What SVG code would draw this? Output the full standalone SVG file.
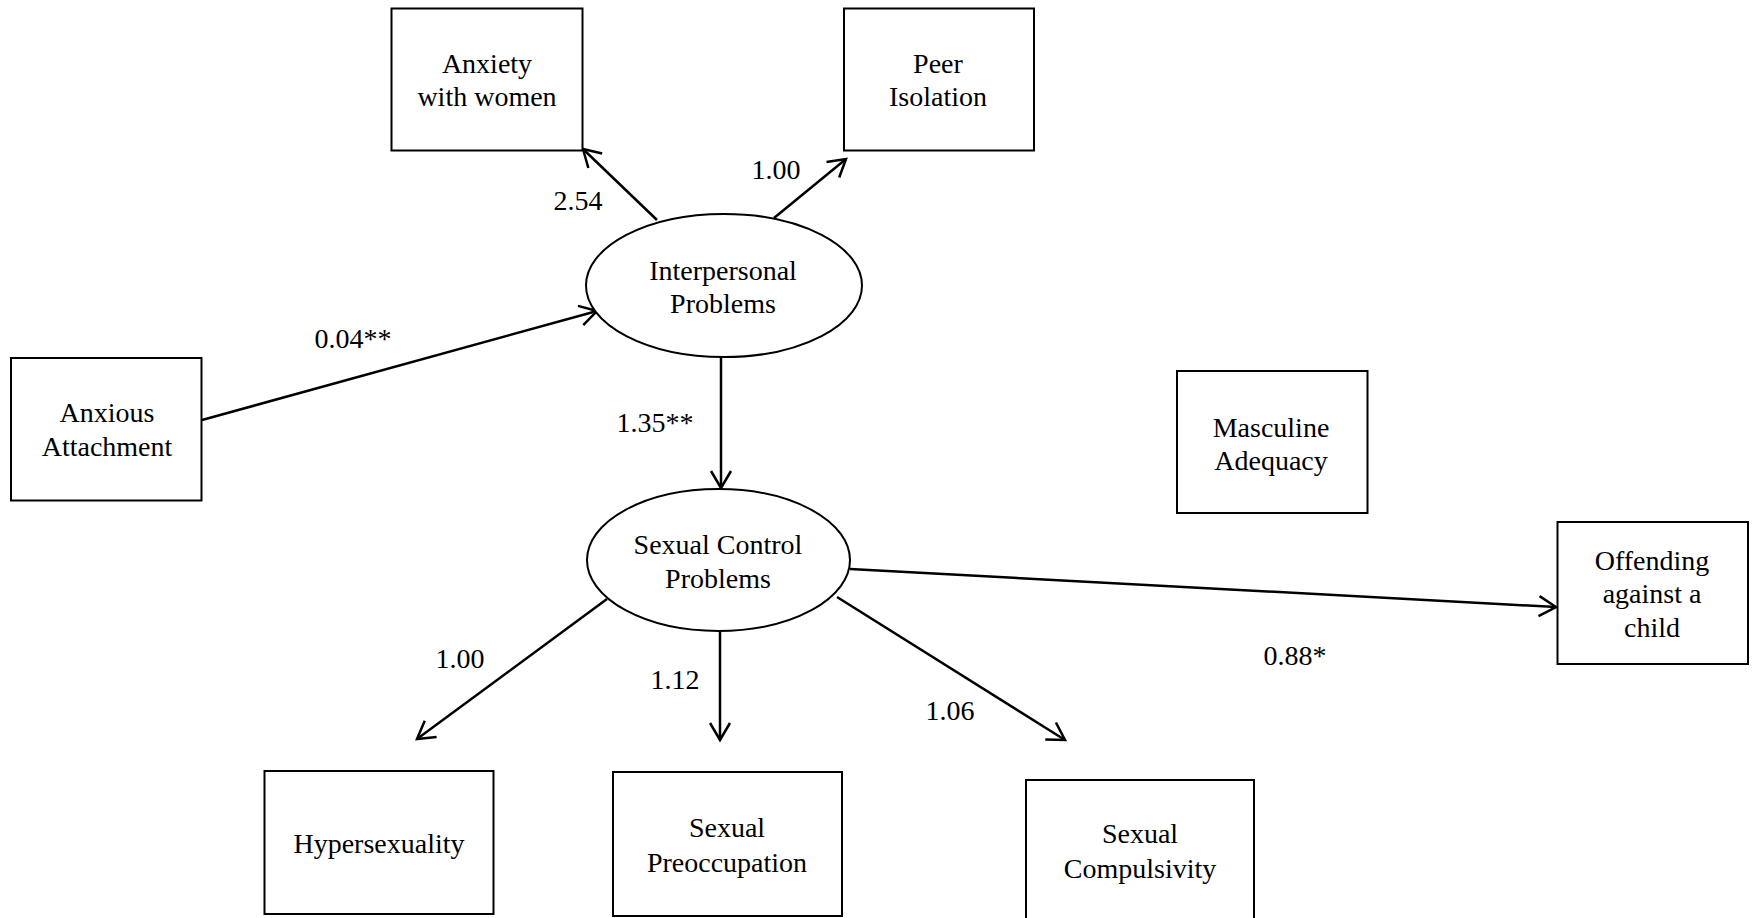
<svg xmlns="http://www.w3.org/2000/svg" width="1754" height="918" viewBox="0 0 1754 918">
<style>
.box{fill:#fff;stroke:#000;stroke-width:2}
.ell{fill:#fff;stroke:#000;stroke-width:2}
.t{font-family:"Liberation Serif","Times New Roman",serif;font-size:28px;fill:#000;text-anchor:middle}
.c{stroke:#000;stroke-width:2.5;fill:none;marker-end:url(#arr)}
</style>
<defs>
<marker id="arr" markerUnits="userSpaceOnUse" markerWidth="30" markerHeight="30" refX="0" refY="0" viewBox="-20 -15 25 30" orient="auto" overflow="visible">
<path d="M-17,-10 L0,0 L-17,10" fill="none" stroke="#000" stroke-width="2.5"/>
</marker>
</defs>
<rect width="1754" height="918" fill="#fff"/>
<g id="connectors">
<line class="c" x1="657" y1="220" x2="583" y2="149"/>
<line class="c" x1="774" y1="218" x2="846" y2="159"/>
<line class="c" x1="202" y1="420" x2="597" y2="311"/>
<line class="c" x1="721" y1="357" x2="721" y2="488"/>
<line class="c" x1="607" y1="599" x2="417" y2="739"/>
<line class="c" x1="720" y1="632" x2="720" y2="740"/>
<line class="c" x1="837" y1="597" x2="1065" y2="740"/>
<line class="c" x1="850" y1="569" x2="1556" y2="607"/>
<text class="t" x="578" y="210">2.54</text>
<text class="t" x="776" y="179">1.00</text>
<text class="t" x="353" y="348">0.04**</text>
<text class="t" x="655" y="432">1.35**</text>
<text class="t" x="460" y="668">1.00</text>
<text class="t" x="675" y="689">1.12</text>
<text class="t" x="950" y="720">1.06</text>
<text class="t" x="1295" y="665">0.88*</text>
</g>
<g id="anxiety">
<rect class="box" x="391.5" y="8.5" width="191" height="142"/>
<text class="t" x="487" y="73">Anxiety</text>
<text class="t" x="487" y="106">with women</text>
</g>
<g id="peer">
<rect class="box" x="844" y="8.5" width="190" height="142"/>
<text class="t" x="938" y="73">Peer</text>
<text class="t" x="938" y="106">Isolation</text>
</g>
<g id="interpersonal">
<ellipse class="ell" cx="724" cy="285.5" rx="138" ry="71.5"/>
<text class="t" x="723" y="280">Interpersonal</text>
<text class="t" x="723" y="313">Problems</text>
</g>
<g id="anxious">
<rect class="box" x="11" y="358" width="190.5" height="142.5"/>
<text class="t" x="107" y="422">Anxious</text>
<text class="t" x="107" y="456">Attachment</text>
</g>
<g id="sexualcontrol">
<ellipse class="ell" cx="718.5" cy="560" rx="131.5" ry="71"/>
<text class="t" x="718" y="554">Sexual Control</text>
<text class="t" x="718" y="588">Problems</text>
</g>
<g id="masculine">
<rect class="box" x="1177" y="371" width="190.5" height="142"/>
<text class="t" x="1271" y="437">Masculine</text>
<text class="t" x="1271" y="470">Adequacy</text>
</g>
<g id="offending">
<rect class="box" x="1557.5" y="522" width="190.5" height="142"/>
<text class="t" x="1652" y="570">Offending</text>
<text class="t" x="1652" y="603">against a</text>
<text class="t" x="1652" y="637">child</text>
</g>
<g id="hypersexuality">
<rect class="box" x="264.5" y="771" width="229" height="143"/>
<text class="t" x="379" y="853">Hypersexuality</text>
</g>
<g id="preoccupation">
<rect class="box" x="613" y="772" width="229" height="144"/>
<text class="t" x="727" y="837">Sexual</text>
<text class="t" x="727" y="872">Preoccupation</text>
</g>
<g id="compulsivity">
<rect class="box" x="1026" y="780" width="228" height="150"/>
<text class="t" x="1140" y="843">Sexual</text>
<text class="t" x="1140" y="878">Compulsivity</text>
</g>
</svg>
